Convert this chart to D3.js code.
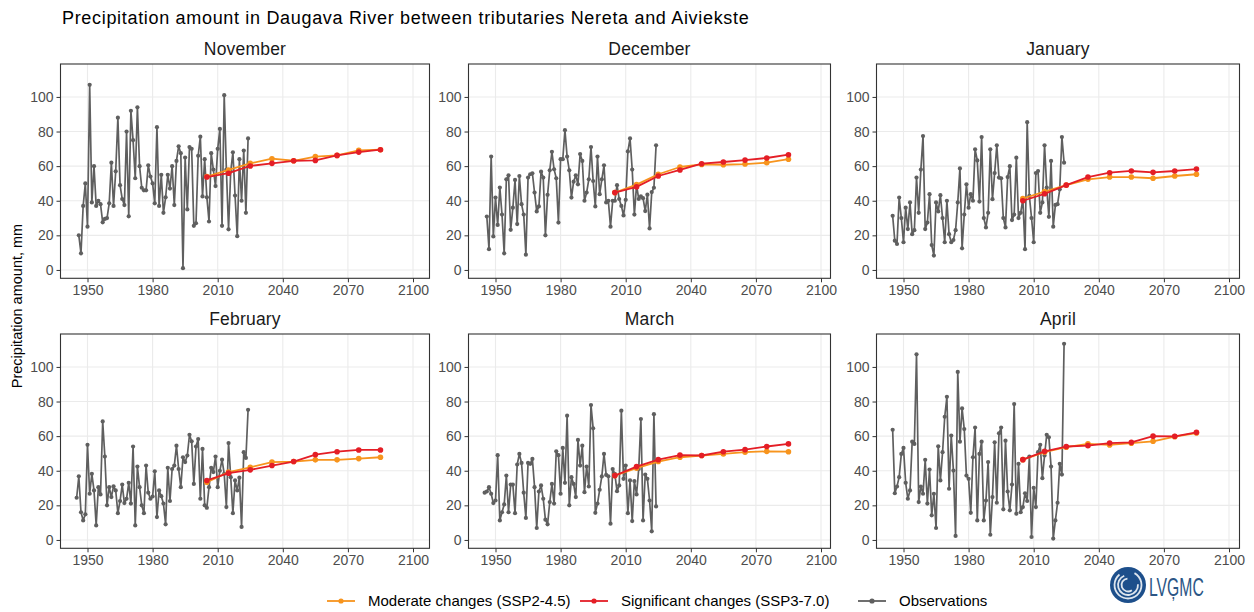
<!DOCTYPE html>
<html>
<head>
<meta charset="utf-8">
<script src="https://cdn.jsdelivr.net/npm/d3@7"></script>
<style>
  html, body { margin: 0; padding: 0; background: #fff; }
  svg { display: block; font-family: "Liberation Sans", Arial, sans-serif; }
</style>
</head>
<body>
<svg id="chart" width="1254" height="612"></svg>
<script>
// ---- Data -------------------------------------------------------------
const months = ["November", "December", "January", "February", "March", "April"];
const projYears = [2005, 2015, 2025, 2035, 2045, 2055, 2065, 2075, 2085];
const obsFirstYear = { November: 1946, December: 1946, January: 1945, February: 1945, March: 1945, April: 1945 };

const obsNovember = [20, 9.6, 37, 50, 25, 107, 39, 60, 37, 40, 38, 27.5, 29.5, 30, 38.5, 62, 37, 57, 88, 49,
  41, 37.5, 80, 31, 92, 75, 53, 94, 60, 47.5, 46, 46, 60.5, 54, 50, 38.5, 82.5, 37, 55, 33,
  42, 55, 47, 60, 37.5, 63, 71.5, 67.5, 1, 65, 35, 71, 70, 25.5, 27, 66, 77, 42.5, 64, 42,
  28, 67.5, 58, 48.5, 70, 81.5, 25.5, 101, 58, 23.5, 57, 68, 43, 19.5, 64, 40, 69, 33, 76];
const obsDecember = [30.9, 12, 65.5, 19.4, 41.8, 26, 47.6, 32, 9.6, 52.4, 54.7, 23.2, 36, 52, 26.5, 54.3, 38, 32, 8.8, 53.4,
  55.3, 55.9, 44.7, 33.8, 36.7, 56.8, 53.4, 20, 43.4, 57.6, 68.3, 58.2, 53, 27.4, 64, 64, 80.8, 65.5, 57.6, 41.8,
  51, 54.7, 49.5, 67, 63, 40, 44.7, 52.4, 71, 51.4, 36.7, 65.5, 43.8, 52.4, 60.5, 39, 40, 25, 40, 40,
  49, 41, 37, 31.5, 40.5, 68.5, 76, 58, 32, 49, 41, 42.5, 41.5, 34, 43.5, 24, 45, 47.5, 72];
const obsJanuary = [31.3, 16.9, 15, 41.8, 30, 16, 36, 23.6, 39, 20.7, 23, 53.4, 33, 58, 77.4, 23.6, 27.4, 43.8, 14.4, 8.3,
  39, 33.8, 43.2, 30, 16, 40, 20.7, 16, 17.3, 23, 39, 58.7, 12.5, 32, 49.5, 36, 43.8, 40, 69.7, 63.3,
  39.5, 76.8, 30, 24.6, 33, 69.7, 40.9, 56, 72, 53.4, 53, 30, 24.6, 53.7, 60, 28.8, 32, 64.9, 30, 33,
  40.9, 12, 85.4, 42.8, 30, 16, 56, 57.2, 33, 39, 72, 47.6, 30.7, 63, 25, 37.6, 38, 46.6, 76.8, 62];
const obsFebruary = [24.4, 36.8, 16, 11.3, 14.8, 55, 26.7, 38.2, 28.6, 8.4, 30.5, 26.3, 68.5, 48.2, 20, 30.5, 24.8, 31, 28.6, 15.5,
  22.5, 32, 21.3, 23.8, 33, 21, 54, 8.4, 42.4, 30.5, 20, 15.5, 43, 27.3, 23.8, 25.1, 39.7, 13.2, 28.6, 25.3,
  21, 9, 41.7, 22.5, 41, 43, 54.5, 41, 30.5, 47.8, 45, 48.8, 60.8, 57, 32.4, 54, 58.3, 23.8, 52.6, 20,
  18.6, 30.5, 41.7, 39.2, 48.2, 30.5, 40, 46.4, 38.2, 19, 56, 36.3, 15.5, 34.4, 28.6, 36, 7.5, 50.7, 47.4, 75.2];
const obsMarch = [27.3, 28, 30.5, 26.7, 21.3, 22.8, 49, 11.3, 16, 20.5, 37.2, 16, 32, 32, 15.5, 43.6, 49.7, 44.5, 27.3, 12.7,
  44.5, 44, 46.8, 30.5, 6.9, 28, 31.5, 23.8, 11.7, 9, 21.9, 32.4, 21, 51.2, 49, 26.7, 53.2, 33, 71.8, 20,
  36.3, 32.4, 24.8, 57.8, 43, 54.5, 27.6, 42.4, 30.9, 78, 64.5, 15.7, 21, 29, 36.7, 49.7, 37.6, 36.8, 9.4, 41,
  38.2, 28.2, 31.5, 74.7, 35.3, 43, 15.5, 34.4, 10.9, 34, 26.3, 41, 69.9, 11.3, 37.8, 35.3, 22.8, 5, 72.7, 19.4];
const obsApril = [63.7, 27, 30.9, 36.3, 49.7, 53.2, 33, 23.8, 28.6, 56.8, 55.5, 107.3, 21.9, 30.9, 26.7, 46.3, 21, 40.7, 14.2, 26.7,
  6.9, 54.1, 34.4, 50.7, 71.2, 82.7, 29.6, 60.3, 40.1, 2.3, 97.1, 56.8, 76, 64.1, 37.2, 35.3, 15.7, 47.8, 65, 11.3,
  49.7, 56.8, 11.3, 22.8, 45, 3, 24.8, 56.4, 21.5, 61.6, 65, 17.7, 57.4, 28, 17.1, 32, 78.5, 15.2, 44, 16,
  19, 27, 22.5, 48.2, 1.7, 30.1, 19, 50.7, 55, 35.7, 48.8, 60.8, 59.3, 42.4, 0.8, 11.3, 21.5, 44, 37.8, 113.4];

// Scenario projections (decadal means)
const moderateNovember = [54, 57.8, 61.6, 64.3, 63.1, 65.5, 66.2, 69.1, 69.5];
const significantNovember = [53.7, 55.9, 60.1, 61.6, 63.1, 63.3, 66.2, 68.1, 69.5];
const moderateDecember = [44.7, 49.3, 55.3, 59.5, 61, 60.8, 61.2, 62, 64];
const significantDecember = [44.7, 48, 54.3, 57.8, 61.4, 62.4, 63.5, 64.7, 66.6];
const moderateJanuary = [41.3, 45.3, 49, 52.4, 53.7, 53.7, 53, 54.3, 55.3];
const significantJanuary = [40, 44, 49, 53.7, 56.2, 57.2, 56.4, 57.2, 58.3];
const moderateFebruary = [33.4, 39.2, 42, 45, 45.3, 46.3, 46.3, 47, 47.8];
const significantFebruary = [34.4, 38.6, 40.5, 43, 45.3, 49.3, 51, 52, 52];
const moderateMarch = [37.2, 41.5, 45.3, 47.8, 48.8, 49.7, 50.7, 51.2, 51];
const significantMarch = [37.2, 42.4, 46.4, 49, 48.8, 51, 52.2, 54, 55.5];
const moderateApril = [46.4, 50.7, 53.6, 55.5, 54.9, 55.9, 57, 59.7, 61.8];
const significantApril = [46.4, 51.2, 54, 54.5, 56, 56.4, 60, 59.9, 62.2];

const yTicks = [0, 20, 40, 60, 80, 100];
const xTicks = [1950, 1980, 2010, 2040, 2070, 2100];

const observations = { November: obsNovember, December: obsDecember, January: obsJanuary,
  February: obsFebruary, March: obsMarch, April: obsApril };
const moderate = { November: moderateNovember, December: moderateDecember, January: moderateJanuary,
  February: moderateFebruary, March: moderateMarch, April: moderateApril };
const significant = { November: significantNovember, December: significantDecember, January: significantJanuary,
  February: significantFebruary, March: significantMarch, April: significantApril };

const legendItems = [
  { label: "Moderate changes (SSP2-4.5)", color: "#F7941D" },
  { label: "Significant changes (SSP3-7.0)", color: "#E41E26" },
  { label: "Observations", color: "#5F5F5F" }
];

// ---- Layout -----------------------------------------------------------
const svg = d3.select("#chart");
const colLeft = [60.5, 468.5, 876.5];
const colRight = [429.5, 830.5, 1239.5];
const rowTop = [64, 334];
const panelH = 214.3;
const obsColor = "#5F5F5F";
const gridColor = "#EBEBEB";
const tickText = "#4D4D4D";

// shared y-domain across facets, expanded 5% like ggplot
const allVals = months.flatMap(m => observations[m].concat(moderate[m], significant[m]));
const [vMin, vMax] = d3.extent(allVals);
const vPad = (vMax - vMin) * 0.05;
const yDomain = [vMin - vPad, vMax + vPad];

svg.append("text")
  .attr("x", 62).attr("y", 24)
  .attr("font-size", 18).attr("letter-spacing", 0.68).attr("fill", "#000")
  .text("Precipitation amount in Daugava River between tributaries Nereta and Aiviekste");

months.forEach((m, i) => {
  const col = i % 3, row = Math.floor(i / 3);
  const left = colLeft[col], right = colRight[col];
  const top = rowTop[row], bottom = top + panelH;

  // 1950 sits 27 px inside the panel, 2.17 px per year
  const pxPerYear = 2.17;
  const x = d3.scaleLinear()
    .domain([1950 - 27 / pxPerYear, 1950 + (right - left - 27) / pxPerYear])
    .range([left, right]);
  const y = d3.scaleLinear().domain(yDomain).range([bottom, top]);

  const g = svg.append("g");

  // grid
  g.selectAll(".gy").data(yTicks).join("line")
    .attr("x1", left).attr("x2", right)
    .attr("y1", d => y(d)).attr("y2", d => y(d))
    .attr("stroke", gridColor).attr("stroke-width", 1.1);
  g.selectAll(".gx").data(xTicks).join("line")
    .attr("x1", d => x(d)).attr("x2", d => x(d))
    .attr("y1", top).attr("y2", bottom)
    .attr("stroke", gridColor).attr("stroke-width", 1.1);

  // axes
  const yAxis = d3.axisLeft(y).tickValues(yTicks).tickSize(4).tickPadding(3);
  const xAxis = d3.axisBottom(x).tickValues(xTicks).tickSize(4).tickPadding(3).tickFormat(d3.format("d"));
  const ya = g.append("g").attr("transform", `translate(${left},0)`).call(yAxis);
  const xa = g.append("g").attr("transform", `translate(0,${bottom})`).call(xAxis);
  [ya, xa].forEach(a => {
    a.select(".domain").remove();
    a.selectAll(".tick line").attr("stroke", "#333");
    a.selectAll(".tick text").attr("fill", tickText).attr("font-size", 14)
      .attr("font-family", "Liberation Sans, Arial, sans-serif");
  });

  // observations
  const firstYear = obsFirstYear[m];
  const obs = observations[m].map((v, k) => ({ year: firstYear + k, v }));
  const line = d3.line().x(d => x(d.year)).y(d => y(d.v));
  g.append("path").datum(obs).attr("d", line)
    .attr("fill", "none").attr("stroke", obsColor).attr("stroke-width", 1.7).attr("stroke-linejoin", "round");
  g.selectAll(".op").data(obs).join("circle")
    .attr("cx", d => x(d.year)).attr("cy", d => y(d.v)).attr("r", 2.1).attr("fill", obsColor);

  // scenarios
  [[moderate[m], legendItems[0].color], [significant[m], legendItems[1].color]].forEach(([vals, c]) => {
    const pts = vals.map((v, k) => ({ year: projYears[k], v }));
    g.append("path").datum(pts).attr("d", line)
      .attr("fill", "none").attr("stroke", c).attr("stroke-width", 1.8).attr("stroke-linejoin", "round");
    g.selectAll(null).data(pts).join("circle")
      .attr("cx", d => x(d.year)).attr("cy", d => y(d.v)).attr("r", 2.8).attr("fill", c);
  });

  // panel border
  g.append("rect").attr("x", left).attr("y", top)
    .attr("width", right - left).attr("height", bottom - top)
    .attr("fill", "none").attr("stroke", "#333").attr("stroke-width", 1.1);

  // strip label
  g.append("text").attr("x", (left + right) / 2).attr("y", top - 9)
    .attr("text-anchor", "middle").attr("font-size", 17.5).attr("letter-spacing", 0.2)
    .attr("fill", "#1A1A1A").text(m);
});

// y-axis title
svg.append("text")
  .attr("transform", "translate(22,306) rotate(-90)")
  .attr("text-anchor", "middle").attr("font-size", 14.5).attr("fill", "#000")
  .text("Precipitation amount, mm");

// legend
const legendX = [327, 580, 858];
const legendY = 601;
const lg = svg.append("g");
legendItems.forEach((it, i) => {
  const x0 = legendX[i];
  lg.append("line").attr("x1", x0).attr("x2", x0 + 28).attr("y1", legendY).attr("y2", legendY)
    .attr("stroke", it.color).attr("stroke-width", 1.8);
  lg.append("circle").attr("cx", x0 + 14).attr("cy", legendY).attr("r", 2.6).attr("fill", it.color);
  lg.append("text").attr("x", x0 + 41).attr("y", legendY + 5)
    .attr("font-size", 15).attr("fill", "#000").text(it.label);
});

// LVĢMC logo
const logo = svg.append("g").attr("transform", "translate(1128,585)");
logo.append("circle").attr("r", 18).attr("fill", "#1D4F8B");
[13.5, 10, 6.5].forEach((r, k) => {
  logo.append("path")
    .attr("d", d3.arc()({ innerRadius: r - 0.9, outerRadius: r + 0.9, startAngle: 0.5 + k, endAngle: 5.6 + k * 0.3 }))
    .attr("fill", "#fff").attr("opacity", 0.85);
});
svg.append("text").attr("transform", "translate(1149,596) scale(0.63,1)")
  .attr("font-size", 25).attr("fill", "#2B5686").text("LVĢMC");
</script>
</body>
</html>
